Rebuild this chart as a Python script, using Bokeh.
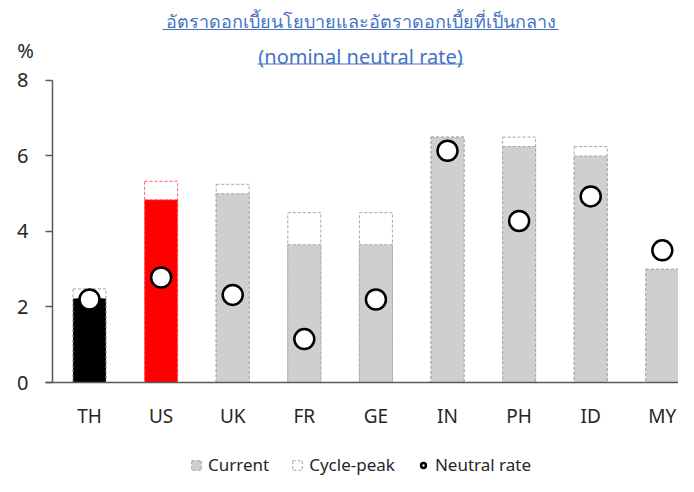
from bokeh.plotting import figure
from bokeh.models import (Range1d, FixedTicker, Legend, LegendItem, Label,
                          ColumnDataSource)
from bokeh.embed import file_html
from bokeh.resources import INLINE

countries = ["TH", "US", "UK", "FR", "GE", "IN", "PH", "ID", "MY"]
current = [2.23, 4.84, 5.0, 3.65, 3.65, 6.5, 6.25, 6.0, 3.0]
cycle_peak = [2.48, 5.33, 5.25, 4.5, 4.5, 6.5, 6.5, 6.25, 3.0]
neutral = [2.2, 2.78, 2.32, 1.15, 2.2, 6.14, 4.28, 4.93, 3.5]
bar_colors = ["#000000", "#ff0000", "#d0cece", "#d0cece", "#d0cece",
              "#d0cece", "#d0cece", "#d0cece", "#d0cece"]
edge_colors = ["#a6a6a6", "#ff6060", "#a6a6a6", "#a6a6a6", "#a6a6a6",
               "#a6a6a6", "#a6a6a6", "#a6a6a6", "#a6a6a6"]
y_ticks = [0, 2, 4, 6, 8]
title_line1 = "อัตราดอกเบี้ยนโยบายและอัตราดอกเบี้ยที่เป็นกลาง"
title_line2 = "(nominal neutral rate)"

FONT = "Noto Sans"
TITLE_COLOR = "#4472c4"
TEXT_COLOR = "#262626"
AXIS_COLOR = "#595959"

X_AXIS_POS = -0.517   # where the value axis sits on the category scale

xs = list(range(len(countries)))
src = ColumnDataSource(dict(x=xs, cur=current, peak=cycle_peak, neu=neutral,
                            fill=bar_colors, edge=edge_colors))

p = figure(frame_width=678, frame_height=476, output_backend="svg",
           toolbar_location=None,
           x_range=Range1d(-1.243, 8.226), y_range=Range1d(-2.49, 10.119),
           min_border_left=0, min_border_right=0, min_border_top=0,
           min_border_bottom=0)
p.outline_line_color = None
p.grid.grid_line_color = None
p.background_fill_color = "white"
p.border_fill_color = "white"

peak_r = p.vbar(x="x", top="peak", width=0.461, source=src, fill_color="white",
                line_color="edge", line_dash="3 2", line_width=1)
cur_r = p.vbar(x="x", top="cur", width=0.461, source=src, fill_color="fill",
               line_color="edge", line_dash="3 2", line_width=1)
neu_r = p.scatter(x="x", y="neu", source=src, size=20, marker="circle",
                  fill_color="white", line_color="black", line_width=2.5)

# y axis, drawn inside the frame
ya = p.yaxis[0]
ya.fixed_location = X_AXIS_POS
ya.ticker = FixedTicker(ticks=y_ticks)
ya.bounds = (0, 8)
ya.axis_line_color = AXIS_COLOR
ya.axis_line_width = 1.5
ya.major_tick_line_color = AXIS_COLOR
ya.major_tick_line_width = 1.5
ya.major_tick_out = 7
ya.major_tick_in = 0
ya.minor_tick_line_color = None
ya.major_label_standoff = 17
ya.major_label_text_font = FONT
ya.major_label_text_font_size = "20px"
ya.major_label_text_color = TEXT_COLOR

# x axis drawn at y = 0
xa = p.xaxis[0]
xa.fixed_location = 0
xa.bounds = (-0.615, 8.226)
xa.ticker = FixedTicker(ticks=xs)
xa.major_label_overrides = {i: c for i, c in enumerate(countries)}
xa.axis_line_color = AXIS_COLOR
xa.axis_line_width = 1.5
xa.major_tick_line_color = None
xa.major_tick_out = 0
xa.major_tick_in = 0
xa.minor_tick_line_color = None
xa.major_label_standoff = 20
xa.major_label_text_font = FONT
xa.major_label_text_font_size = "19px"
xa.major_label_text_color = TEXT_COLOR

# underlined title and unit label
tx = 3.785
p.add_layout(Label(x=tx, y=9.589, text=title_line1, text_align="center",
                   text_baseline="middle", text_font=FONT,
                   text_font_size="18px", text_color=TITLE_COLOR))
p.add_layout(Label(x=tx, y=8.636, text=title_line2, text_align="center",
                   text_baseline="middle", text_font=FONT,
                   text_font_size="20px", text_color=TITLE_COLOR))
p.segment(x0=[1.02, 2.346], y0=[9.351, 8.437], x1=[6.55, 5.223],
          y1=[9.351, 8.437], line_color=TITLE_COLOR, line_width=1.2)
p.add_layout(Label(x=-0.894, y=8.795, text="%", text_align="center",
                   text_baseline="middle", text_font=FONT,
                   text_font_size="20px", text_color=TEXT_COLOR))

legend = Legend(items=[
    LegendItem(label="Current", renderers=[cur_r], index=2),
    LegendItem(label="Cycle-peak", renderers=[peak_r], index=2),
    LegendItem(label="Neutral rate", renderers=[neu_r]),
], orientation="horizontal", location=(190, 0),
    border_line_color=None, background_fill_alpha=0,
    label_text_font=FONT, label_text_font_size="17px",
    label_text_color=TEXT_COLOR, glyph_width=12, glyph_height=12,
    label_standoff=6, spacing=22, padding=0, margin=0)
p.add_layout(legend, "center")

open("out.html", "w").write(file_html(p, INLINE))
